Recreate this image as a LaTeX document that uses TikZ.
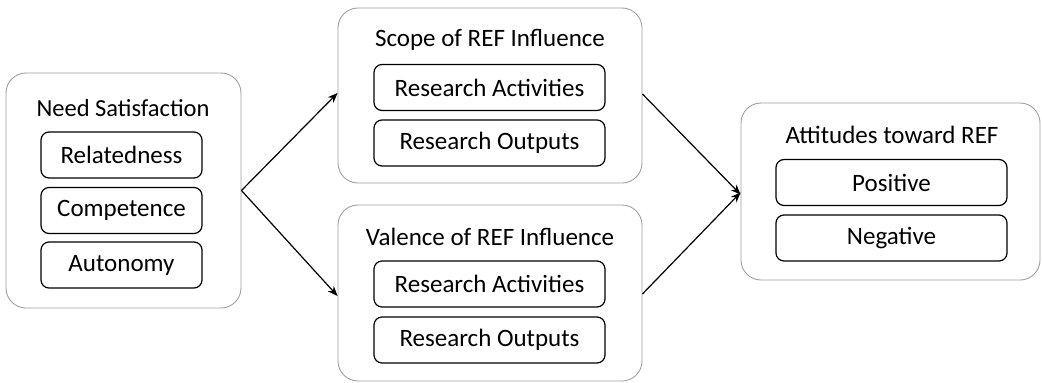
\documentclass[tikz,border=0pt]{standalone}
\usepackage{fontspec}
\setmainfont{Carlito}
\usetikzlibrary{arrows.meta}
\tikzset{
  outerbox/.style={draw=gray!75, line width=0.9pt, rounded corners=20pt, inner sep=0pt},
  innerbox/.style={draw=black, line width=1.2pt, rounded corners=8pt, inner sep=0pt, minimum height=46pt, font=\fontsize{25}{30}\selectfont},
  titletext/.style={inner sep=0pt, font=\fontsize{25}{30}\selectfont},
  conn/.style={draw=black, line width=1.2pt, -{Stealth[length=10pt,width=8pt]}}
}
\begin{document}
\begin{tikzpicture}[x=1pt,y=-1pt]
\useasboundingbox (0,0) rectangle (1042,383);
% outer boxes
\node[outerbox, minimum width=235pt, minimum height=235pt] (need) at (123.5,190.5) {};
\node[outerbox, minimum width=304pt, minimum height=175pt] (scope) at (490,95.5) {};
\node[outerbox, minimum width=304pt, minimum height=176pt] (val) at (490,293) {};
\node[outerbox, minimum width=299pt, minimum height=177pt] (att) at (890.5,191.5) {};
% titles
\node[titletext, font=\fontsize{24.5}{29}\selectfont] (needT) at (123,108) {Need Satisfaction};
\node[titletext] (scopeT) at (490,40) {Scope of REF Influence};
\node[titletext] (valT) at (490,237) {Valence of REF Influence};
\node[titletext] (attT) at (892,135) {Attitudes toward REF};
% inner boxes
\node[innerbox, minimum width=161pt] (rel) at (121.5,155) {Relatedness};
\node[innerbox, minimum width=161pt] (comp) at (121.5,210.5) {Competence};
\node[innerbox, minimum width=161pt] (aut) at (121.5,265) {Autonomy};
\node[innerbox, minimum width=231pt] (sa) at (489.5,87.5) {Research Activities};
\node[innerbox, minimum width=231pt] (so) at (489.5,143) {Research Outputs};
\node[innerbox, minimum width=231pt] (va) at (489.5,284) {Research Activities};
\node[innerbox, minimum width=231pt] (vo) at (489.5,340) {Research Outputs};
\node[innerbox, minimum width=231pt] (pos) at (891.5,182.5) {Positive};
\node[innerbox, minimum width=231pt] (neg) at (891.5,238) {Negative};
% connectors
\draw[conn] (need.east) -- ([yshift=2.5pt]scope.west);
\draw[conn] (need.east) -- ([yshift=-3pt]val.west);
\draw[conn] ([yshift=1.5pt]scope.east) -- ([yshift=-3pt]att.west);
\draw[conn] ([yshift=-1pt]val.east) -- ([yshift=-1pt]att.west);
\end{tikzpicture}
\end{document}
